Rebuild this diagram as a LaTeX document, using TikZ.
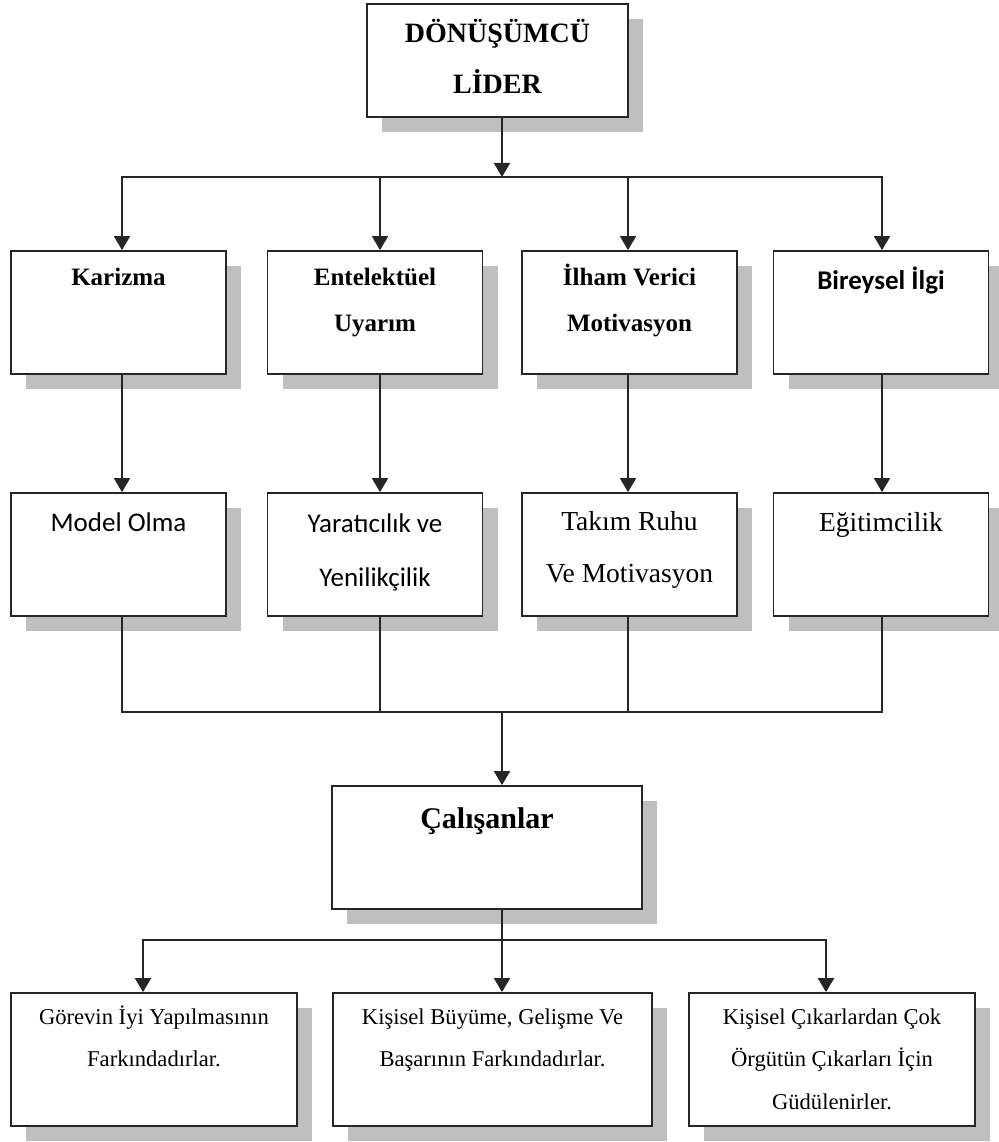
\documentclass[tikz,border=0pt]{standalone}
\usepackage{fontspec}
\setmainfont{Liberation Serif}
\newfontfamily\clb{Carlito}
\usetikzlibrary{arrows.meta,shadows}

\begin{document}
\begin{tikzpicture}[x=1pt,y=-1pt,
  box/.style={draw=black!85, line width=1.8pt, fill=white, rectangle, inner sep=0pt,
    drop shadow={shadow xshift=15pt, shadow yshift=-15pt, opacity=1, fill=black!25, draw=none}},
  txt/.style={anchor=base, align=center, inner sep=0pt},
  ln/.style={draw=black!85, line width=2pt, line join=miter},
  tip/.tip={Triangle[width=16pt,length=14pt]},
  arr/.style={ln, -tip},
  darr/.style={ln, tip-tip},
  hb/.style={font={\fontsize{25}{46}\selectfont\bfseries}},
  hc/.style={font={\clb\fontsize{27}{54}\selectfont}},
  ht/.style={font={\fontsize{27.5}{52}\selectfont}},
  hs/.style={font={\fontsize{22.6}{42.5}\selectfont}}]

\useasboundingbox (0,0) rectangle (998,1142);

% leader (text nodes are placed by the baseline of their last line)
\node[box, minimum width=261pt, minimum height=113pt] (top) at (497.5,60.5) {};
\node[txt, font={\fontsize{28}{51}\selectfont\bfseries}] (ttop) at ([yshift=-90pt]top.north) {DÖNÜŞÜMCÜ\\LİDER};

% four dimensions
\foreach \n/\x in {K/118.5, E/375, I/629.5, B/881}
  \node[box, minimum width=215pt, minimum height=123pt] (\n) at (\x,312.5) {};
\node[txt, hb] (tK) at ([yshift=-35pt]K.north) {Karizma};
\node[txt, hb] (tE) at ([yshift=-81pt]E.north) {Entelektüel\\Uyarım};
\node[txt, hb] (tI) at ([yshift=-81pt]I.north) {İlham Verici\\Motivasyon};
\node[txt, font={\clb\fontsize{27}{46}\selectfont\bfseries}] (tB) at ([yshift=-39pt]B.north) {Bireysel İlgi};

% outcomes of each dimension
\foreach \n/\x in {M/118.5, Y/375, T/629.5, G2/881}
  \node[box, minimum width=215pt, minimum height=123pt] (\n) at (\x,554.5) {};
\node[txt, hc] (tM) at ([yshift=-39pt]M.north) {Model Olma};
\node[txt, hc] (tY) at ([yshift=-94pt]Y.north) {Yaratıcılık ve\\Yenilikçilik};
\node[txt, ht] (tT) at ([yshift=-90pt]T.north) {Takım Ruhu\\Ve Motivasyon};
\node[txt, ht] (tG2) at ([yshift=-39pt]G2.north) {Eğitimcilik};

% employees
\node[box, minimum width=310pt, minimum height=123pt] (C) at (487,847.5) {};
\node[txt, font={\fontsize{30}{50}\selectfont\bfseries}] (tC) at ([yshift=-43pt]C.north) {Çalışanlar};

% results
\node[box, minimum width=286pt, minimum height=133pt] (R1) at (154,1059.5) {};
\node[box, minimum width=319pt, minimum height=133pt] (R2) at (492.5,1059.5) {};
\node[box, minimum width=286pt, minimum height=133pt] (R3) at (832,1059.5) {};
\node[txt, hs] (tR1) at ([yshift=-74.5pt]R1.north) {Görevin İyi Yapılmasının\\Farkındadırlar.};
\node[txt, hs] (tR2) at ([yshift=-74.5pt]R2.north) {Kişisel Büyüme, Gelişme Ve\\Başarının Farkındadırlar.};
\node[txt, hs] (tR3) at ([yshift=-117pt]R3.north) {Kişisel Çıkarlardan Çok\\Örgütün Çıkarları İçin\\Güdülenirler.};

% branching points and connector columns
\coordinate (h1) at (502,177);
\coordinate (h2) at (502,712);
\coordinate (h3) at (502,940);
\coordinate (g1) at (143,940);
\coordinate (g3) at (826,940);
\coordinate (xK) at (122,0);
\coordinate (xE) at (380,0);
\coordinate (xI) at (628,0);
\coordinate (xB) at (882,0);

% leader to dimensions
\draw[arr] (top.south -| h1) -- (h1);
\draw[darr] (K.north -| xK) -- (h1 -| xK) -- (h1 -| xB) -- (B.north -| xB);
\draw[arr] (h1 -| xE) -- (E.north -| xE);
\draw[arr] (h1 -| xI) -- (I.north -| xI);

% dimensions to outcomes
\foreach \a/\b/\c in {K/M/xK, E/Y/xE, I/T/xI, B/G2/xB}
  \draw[arr] (\a.south -| \c) -- (\b.north -| \c);

% outcomes to employees
\draw[ln] (M.south -| xK) -- (h2 -| xK) -- (h2 -| xB) -- (G2.south -| xB);
\draw[ln] (Y.south -| xE) -- (h2 -| xE);
\draw[ln] (T.south -| xI) -- (h2 -| xI);
\draw[arr] (h2) -- (C.north -| h2);

% employees to results
\draw[ln] (C.south -| h3) -- (h3);
\draw[darr] (R1.north -| g1) -- (g1) -- (g3) -- (R3.north -| g3);
\draw[arr] (h3) -- (R2.north -| h3);
\end{tikzpicture}
\end{document}
